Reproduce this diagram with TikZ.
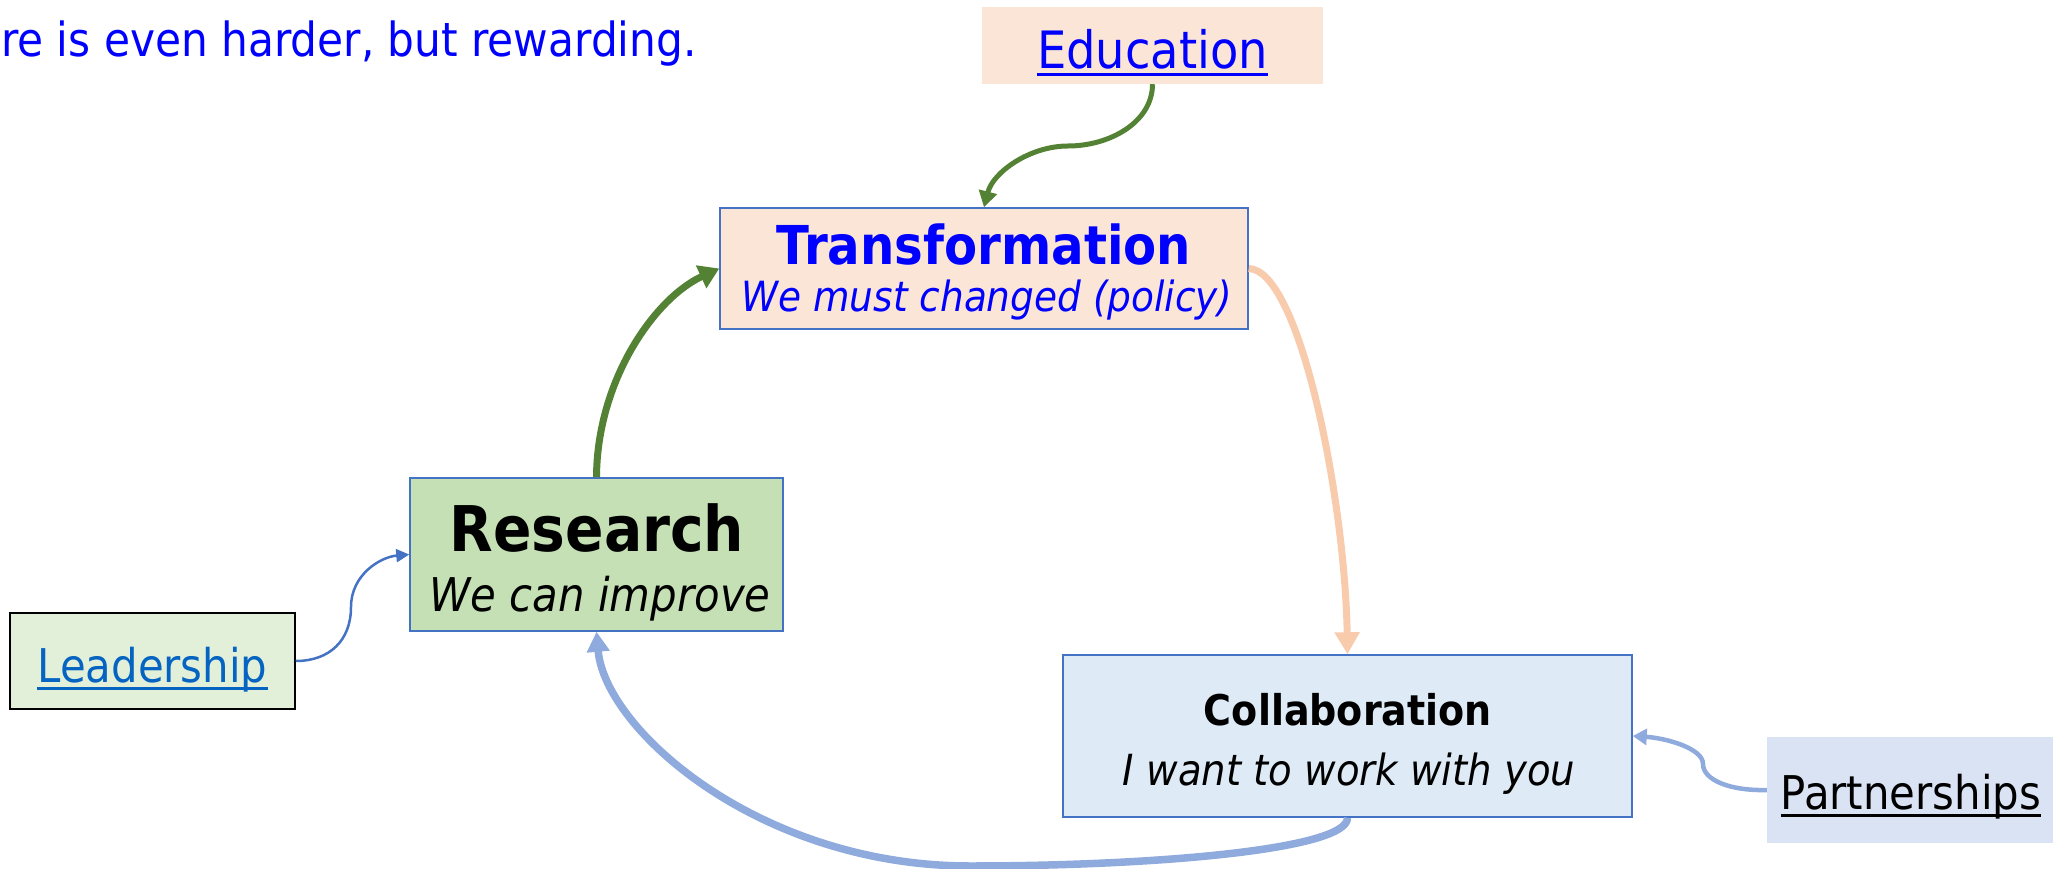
\documentclass[tikz,border=0pt]{standalone}
\usepackage{fontspec}
\setmainfont{DejaVu Sans Condensed}
\usetikzlibrary{arrows.meta}
\definecolor{pureblue}{HTML}{0000FF}
\definecolor{linkblue}{HTML}{0563C1}
\definecolor{peachfill}{HTML}{FBE5D6}
\definecolor{resfill}{HTML}{C5E0B4}
\definecolor{leadfill}{HTML}{E2F0D9}
\definecolor{collfill}{HTML}{DEEBF7}
\definecolor{partfill}{HTML}{DAE3F3}
\definecolor{boxline}{HTML}{4472C4}
\definecolor{greenarrow}{HTML}{548235}
\definecolor{peacharrow}{HTML}{F8CBAD}
\definecolor{bluearrow}{HTML}{8FAADC}
\begin{document}
\begin{tikzpicture}[x=1pt,y=-1pt,
  box/.style={rectangle, inner sep=0pt, draw=boxline, line width=1.5pt},
  plainbox/.style={rectangle, inner sep=0pt},
  txt/.style={inner sep=0pt, anchor=base},
  uline/.style={line width=3pt},
  fs/.style={font=\fontsize{#1}{#1}\selectfont}
]
\useasboundingbox (0,0) rectangle (2056,869);

% title fragment
\node[txt, anchor=base west, text=pureblue, fs=47] (title) at (1,57) {re is even harder, but rewarding.};

% boxes
\node[plainbox, fill=peachfill, minimum width=341pt, minimum height=77pt] (edu) at (1152.5,45.5) {};
\node[box, fill=peachfill, minimum width=528pt, minimum height=121pt] (trans) at (984,268.5) {};
\node[box, fill=resfill, minimum width=373pt, minimum height=153pt] (res) at (596.5,554.5) {};
\node[box, draw=black, fill=leadfill, minimum width=285pt, minimum height=96pt] (lead) at (152.5,661) {};
\node[box, fill=collfill, minimum width=569pt, minimum height=162pt] (coll) at (1347.5,736) {};
\node[plainbox, fill=partfill, minimum width=286pt, minimum height=106pt] (part) at (1910,790) {};

% texts
\node[txt, text=pureblue, fs=51.5] (edut) at (1152.5,69) {Education};
\draw[uline, pureblue] ([yshift=-6pt]edut.base west) -- ([yshift=-6pt]edut.base east);

\node[txt, text=pureblue, fs=53.6] (transt) at (984,265) {\bfseries Transformation};
\node[txt, text=pureblue, fs=41.6] (transs) at (987,311) {\itshape We must changed (policy)};

\node[txt, fs=63] (rest) at (597,551) {\bfseries Research};
\node[txt, fs=46.5] (ress) at (600,611) {\itshape We can improve};

\node[txt, text=linkblue, fs=46.5] (leadt) at (152.5,682) {Leadership};
\draw[uline, linkblue] ([yshift=-6pt]leadt.base west) -- ([yshift=-6pt]leadt.base east);

\node[txt, fs=42.3] (collt) at (1348,725) {\bfseries Collaboration};
\node[txt, fs=42.9] (colls) at (1349,785) {\itshape I want to work with you};

\node[txt, fs=46.5] (partt) at (1911,809) {Partnerships};
\draw[uline, black] ([yshift=-6pt]partt.base west) -- ([yshift=-6pt]partt.base east);

% waypoints
\coordinate (em) at (1068,146);
\coordinate (lm) at (351,607);
\coordinate (pm) at (1703,764);
\coordinate (bm) at (970,866);

% connectors
\draw[greenarrow, line width=5pt, -{Triangle[length=16pt,width=18pt]}]
  (edu.south) .. controls (1152.5,122) and (1110,146) .. (em)
  .. controls (1030,146) and (993,172) .. (trans.north);

\draw[greenarrow, line width=7pt, -{Triangle[length=20pt,width=24pt]}]
  (res.north) .. controls (597,380) and (655,298) .. (trans.west);

\draw[peacharrow, line width=7pt, -{Triangle[length=22pt,width=24pt]}]
  (trans.east) .. controls (1300,270) and (1345,500) .. (coll.north);

\draw[bluearrow, line width=7.5pt, -{Triangle[length=20pt,width=22pt]}]
  (coll.south) .. controls (1348,850) and (1150,866) .. (bm)
  .. controls (760,866) and (605,730) .. (res.south);

\draw[boxline, line width=2.5pt, -{Triangle[length=13pt,width=13pt]}]
  (lead.east) .. controls (330,661) and (351,640) .. (lm)
  .. controls (351,575) and (380,557) .. (res.west);

\draw[bluearrow, line width=4.5pt, -{Triangle[length=14pt,width=16pt]}]
  (part.west) .. controls (1730,791) and (1703,780) .. (pm)
  .. controls (1703,748) and (1665,738) .. (coll.east);
\end{tikzpicture}
\end{document}
